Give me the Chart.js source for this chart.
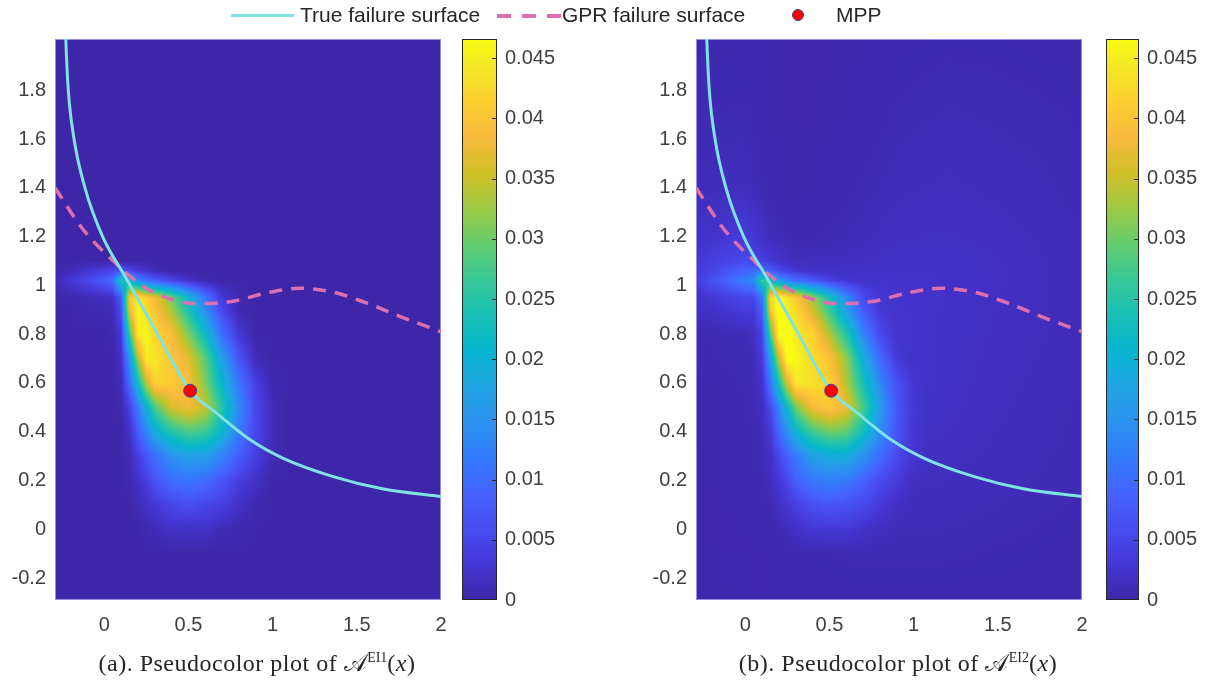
<!DOCTYPE html>
<html>
<head>
<meta charset="utf-8">
<title>Pseudocolor plots of A-EI1 and A-EI2</title>
<script src="https://cdn.jsdelivr.net/npm/chart.js@4.4.1/dist/chart.umd.min.js"></script>
<style>
  html, body { margin: 0; padding: 0; background: #fff; overflow: hidden; }
  #fig { position: relative; width: 1213px; height: 682px; color: #262626;
         font-family: 'Liberation Sans', Arial, sans-serif; }
  #fig canvas { position: absolute; top: 0; }
  .leg { position: absolute; top: 3px; font-size: 21px; line-height: 24px; white-space: nowrap; }
  .swatch { position: absolute; }
  .cap { position: absolute; top: 650px; width: 514px; text-align: center; white-space: nowrap;
         font-family: 'Liberation Serif', 'DejaVu Serif', serif; font-size: 24px; line-height: 26px;
         letter-spacing: 0.5px; }
  .cap sup { font-size: 14px; vertical-align: 9px; line-height: 0; letter-spacing: 0; }
</style>
</head>
<body>
<div id="fig">
  <canvas id="chartA" width="572" height="682" style="left:0"></canvas>
  <canvas id="chartB" width="572" height="682" style="left:641px"></canvas>

  <div class="swatch" style="left:231px;top:14px;width:63px;height:3px;background:#7fe3e3"></div>
  <div class="leg" style="left:300px">True failure surface</div>
  <div class="swatch" style="left:497px;top:14px;width:64px;height:3.5px;background:repeating-linear-gradient(90deg,#de6fae 0 14px,transparent 14px 25px)"></div>
  <div class="leg" style="left:562px">GPR failure surface</div>
  <div class="swatch" style="left:792px;top:9px;width:12px;height:12px;box-sizing:border-box;border-radius:50%;background:#f00;border:1px solid #3646a8"></div>
  <div class="leg" style="left:836px">MPP</div>

  <div class="cap" style="left:0">(a). Pseudocolor plot of 𝒜<sup>EI1</sup>(<i>x</i>)</div>
  <div class="cap" style="left:641px">(b). Pseudocolor plot of 𝒜<sup>EI2</sup>(<i>x</i>)</div>
</div>

<script>
// axis ranges and tick labels
const xMin = -0.293, xMax = 2.0;
const yMin = -0.29, yMax = 2.01;
const cbMax = 0.0466;
const xTicks = [0, 0.5, 1, 1.5, 2];
const yTicks = [-0.2, 0, 0.2, 0.4, 0.6, 0.8, 1, 1.2, 1.4, 1.6, 1.8];
const cbTicks = [0, 0.005, 0.01, 0.015, 0.02, 0.025, 0.03, 0.035, 0.04, 0.045];

// curves
const trueCurveX = [-0.233, -0.229, -0.214, -0.18, -0.115, -0.01, 0.12, 0.3, 0.51, 0.667, 0.866, 1.063, 1.36, 1.658, 2.0];
const trueCurveY = [2.1, 2.01, 1.8, 1.6, 1.4, 1.2, 1.04, 0.82, 0.568, 0.476, 0.367, 0.291, 0.216, 0.165, 0.134];
const gprCurveX = [-0.293, -0.126, 0.044, 0.23, 0.41, 0.568, 0.764, 0.964, 1.161, 1.359, 1.557, 1.755, 2.0];
const gprCurveY = [1.4, 1.229, 1.106, 0.996, 0.94, 0.925, 0.935, 0.969, 0.988, 0.972, 0.928, 0.873, 0.81];
const mppX = [0.51];
const mppY = [0.568];

// acquisition function values (x 1e-3) on a grid, same plume in both panels
const fieldX = [-0.3, -0.2, -0.1, 0, 0.05, 0.1, 0.15, 0.2, 0.25, 0.3, 0.4, 0.5, 0.6, 0.7, 0.8, 0.9, 1.0, 1.1];
const fieldY = [1.1, 1.06, 1.02, 0.95, 0.9, 0.8, 0.7, 0.6, 0.5, 0.4, 0.3, 0.2, 0.1, 0.0, -0.1];
const plumeValues = [
  [0,   0,   0,   0,   0,   0,  0,  0,  0,  0,  0,  0,  0,  0,  0,   0,   0,   0],
  [0,   1,   2.5, 4,   5,   7,  5,  3,  2,  1,  0,  0,  0,  0,  0,   0,   0,   0],
  [0.5, 3,   5,   8,   10,  24, 20, 14, 10, 8,  5,  2,  0.5, 0, 0,   0,   0,   0],
  [0,   0.5, 1,   1.5, 2,   8,  40, 45, 41, 38, 30, 21, 11, 3,  0.5, 0,   0,   0],
  [0,   0,   0.5, 1,   1,   6,  38, 46, 43, 40, 33, 24, 14, 5,  0.5, 0,   0,   0],
  [0,   0,   0,   0,   0.5, 3,  26, 45, 46, 42, 39, 31, 22, 10, 3,   0,   0,   0],
  [0,   0,   0,   0,   0,   2,  15, 33, 45, 44, 40, 37, 29, 17, 7,   1,   0,   0],
  [0,   0,   0,   0,   0,   1,  10, 22, 34, 42, 41, 39, 31, 21, 11,  4,   0.5, 0],
  [0,   0,   0,   0,   0,   0.5, 4, 12, 20, 28, 36, 38, 35, 25, 14,  5,   1,   0],
  [0,   0,   0,   0,   0,   0,  2,  8,  13, 19, 25, 28, 27, 21, 12,  5,   1,   0],
  [0,   0,   0,   0,   0,   0,  1,  4,  7,  10, 15, 17, 17, 13, 8,   4,   1,   0],
  [0,   0,   0,   0,   0,   0,  0.5, 2, 4,  7,  10, 11, 10, 7,  4,   2,   0,   0],
  [0,   0,   0,   0,   0,   0,  0,  1,  2,  3,  5,  6,  5,  4,  2,   0.5, 0,   0],
  [0,   0,   0,   0,   0,   0,  0,  0,  0.5, 1, 2,  2,  2,  1,  0.5, 0,   0,   0],
  [0,   0,   0,   0,   0,   0,  0,  0,  0,  0,  0,  0,  0,  0,  0,   0,   0,   0]
];

// faint background of panel (b) (x 1e-3)
const haloX = [-0.3, 0, 0.15, 0.3, 0.6, 0.9, 1.2, 1.5, 1.8, 2.0];
const haloY = [2.05, 1.7, 1.4, 1.2, 1.1, 1.0, 0.8, 0.5, 0.2, -0.1, -0.3];
const haloValues = [
  [0.5, 0.5, 0.2, 0.1, 0.2, 0.5, 0.6, 0.6, 0.5, 0.5],
  [0.7, 0.8, 0.3, 0.1, 0.3, 0.8, 1.0, 0.9, 0.8, 0.7],
  [1.0, 1.4, 0.5, 0.2, 0.6, 1.2, 1.4, 1.2, 1.0, 0.8],
  [1.8, 3.5, 1.3, 0.5, 1.0, 1.6, 1.7, 1.5, 1.2, 1.0],
  [3.0, 5.5, 3.0, 1.3, 1.5, 1.9, 1.9, 1.7, 1.3, 1.0],
  [2.5, 4.5, 2.5, 2.5, 2.5, 2.2, 2.0, 1.7, 1.3, 1.0],
  [0.7, 1.0, 1.8, 2.5, 3.0, 2.4, 1.9, 1.6, 1.3, 1.0],
  [0.4, 0.7, 1.3, 2.2, 2.8, 2.2, 1.8, 1.4, 1.1, 0.9],
  [0.3, 0.5, 0.9, 1.3, 1.7, 1.5, 1.3, 1.1, 0.9, 0.8],
  [0.3, 0.3, 0.4, 0.6, 0.8, 0.8, 0.8, 0.7, 0.6, 0.5],
  [0.2, 0.3, 0.3, 0.4, 0.5, 0.5, 0.5, 0.5, 0.4, 0.4]
];

// parula, every 4th entry
const parulaStops = [
  [0.2422, 0.1504, 0.6603], [0.2706, 0.2147, 0.8364], [0.2813, 0.3006, 0.9414],
  [0.2699, 0.3892, 0.9906], [0.1963, 0.4847, 0.9892], [0.1687, 0.5703, 0.9359],
  [0.1248, 0.6459, 0.8883], [0.0297, 0.7082, 0.8163], [0.0964, 0.7500, 0.7120],
  [0.2161, 0.7843, 0.5923], [0.3909, 0.8029, 0.4354], [0.6174, 0.7876, 0.2612],
  [0.8203, 0.7498, 0.1535], [0.9728, 0.7298, 0.2394], [0.9892, 0.8136, 0.1885],
  [0.9597, 0.9135, 0.1423], [0.9769, 0.9839, 0.0805]
];
const stopPos = parulaStops.map((_, i) => Math.min(i * 4, 63) / 63);

function parula(t) {
  t = Math.max(0, Math.min(1, t));
  let i = 0;
  while (i < stopPos.length - 2 && t > stopPos[i + 1]) i++;
  const f = (t - stopPos[i]) / (stopPos[i + 1] - stopPos[i]);
  const a = parulaStops[i], b = parulaStops[i + 1];
  return [0, 1, 2].map(k => Math.round(255 * (a[k] + (b[k] - a[k]) * f)));
}

// bilinear lookup, xs ascending, ys descending
function sampleGrid(xs, ys, grid, x, y, clamp) {
  if (clamp) {
    x = Math.max(xs[0], Math.min(xs[xs.length - 1], x));
    y = Math.min(ys[0], Math.max(ys[ys.length - 1], y));
  } else if (x < xs[0] || x > xs[xs.length - 1] || y > ys[0] || y < ys[ys.length - 1]) {
    return 0;
  }
  let i = 0, j = 0;
  while (i < xs.length - 2 && x > xs[i + 1]) i++;
  while (j < ys.length - 2 && y < ys[j + 1]) j++;
  const tx = (x - xs[i]) / (xs[i + 1] - xs[i]);
  const ty = (ys[j] - y) / (ys[j] - ys[j + 1]);
  const top = grid[j][i] * (1 - tx) + grid[j][i + 1] * tx;
  const bot = grid[j + 1][i] * (1 - tx) + grid[j + 1][i + 1] * tx;
  return top * (1 - ty) + bot * ty;
}

const fieldA = (x, y) => sampleGrid(fieldX, fieldY, plumeValues, x, y) * 1e-3;
const fieldB = (x, y) => fieldA(x, y) + sampleGrid(haloX, haloY, haloValues, x, y, true) * 1e-3;

const toPoints = (xs, ys) => xs.map((x, i) => ({ x, y: ys[i] }));

// draws the pseudocolor field in the plot area and the colorbar next to it
function fieldPlugin(valueAt, cb) {
  return {
    id: 'field',
    beforeDatasetsDraw(chart) {
      const { ctx, chartArea: a } = chart;
      const xs = chart.scales.x, ys = chart.scales.y;
      const x0 = Math.round(a.left), y0 = Math.round(a.top);
      const w = Math.round(a.right) - x0, h = Math.round(a.bottom) - y0;
      const img = ctx.createImageData(w, h);
      for (let j = 0; j < h; j++) {
        const yv = ys.getValueForPixel(y0 + j + 0.5);
        for (let i = 0; i < w; i++) {
          const c = parula(valueAt(xs.getValueForPixel(x0 + i + 0.5), yv) / cbMax);
          const k = (j * w + i) * 4;
          img.data[k] = c[0]; img.data[k + 1] = c[1]; img.data[k + 2] = c[2]; img.data[k + 3] = 255;
        }
      }
      ctx.putImageData(img, x0, y0);
      ctx.save();
      ctx.strokeStyle = 'rgba(160,150,235,0.9)';
      ctx.lineWidth = 1;
      ctx.strokeRect(x0 + 0.5, y0 + 0.5, w - 1, h - 1);
      ctx.restore();
    },
    afterDraw(chart) {
      const { ctx } = chart;
      const s = chart.scales.cb;
      const left = Math.round(chart.chartArea.right + cb.gap);
      const top = Math.round(s.top), bottom = Math.round(s.bottom);
      ctx.save();
      for (let py = top; py < bottom; py++) {
        const c = parula(s.getValueForPixel(py + 0.5) / cbMax);
        ctx.fillStyle = `rgb(${c[0]},${c[1]},${c[2]})`;
        ctx.fillRect(left, py, cb.width, 1);
      }
      ctx.strokeStyle = '#262626';
      ctx.lineWidth = 1;
      ctx.strokeRect(left + 0.5, top + 0.5, cb.width - 1, bottom - top - 1);
      cbTicks.forEach(v => {
        if (v === 0) return;
        const py = Math.round(s.getPixelForValue(v)) + 0.5;
        ctx.beginPath();
        ctx.moveTo(left + cb.width - 5, py);
        ctx.lineTo(left + cb.width - 1, py);
        ctx.stroke();
      });
      ctx.restore();
    }
  };
}

Chart.defaults.font.family = "'Liberation Sans', Arial, sans-serif";
Chart.defaults.font.size = 20;
Chart.defaults.color = '#404040';

function makeChart(id, valueAt, cb) {
  const fixTicks = list => s => { s.ticks = list.map(value => ({ value })); };
  return new Chart(document.getElementById(id), {
    type: 'scatter',
    data: {
      datasets: [
        {
          label: 'True failure surface',
          data: toPoints(trueCurveX, trueCurveY),
          showLine: true, borderColor: '#7fe3e3', borderWidth: 3,
          pointRadius: 0, cubicInterpolationMode: 'monotone', clip: 0, order: 1
        },
        {
          label: 'GPR failure surface',
          data: toPoints(gprCurveX, gprCurveY),
          showLine: true, borderColor: '#de6fae', borderWidth: 3.5, borderDash: [13, 9],
          pointRadius: 0, cubicInterpolationMode: 'monotone', clip: 0, order: 2
        },
        {
          label: 'MPP',
          data: toPoints(mppX, mppY),
          pointRadius: 6.5, pointBackgroundColor: '#ff0000',
          pointBorderColor: '#3646a8', pointBorderWidth: 1, order: 0
        }
      ]
    },
    options: {
      responsive: false,
      animation: false,
      devicePixelRatio: 1,
      events: [],
      layout: { padding: { left: 10, top: 39, right: 6, bottom: 42 } },
      plugins: { legend: { display: false }, tooltip: { enabled: false } },
      scales: {
        x: {
          type: 'linear', min: xMin, max: xMax,
          grid: { display: false, drawTicks: false }, border: { display: false },
          ticks: { padding: 13, callback: v => String(v) },
          afterBuildTicks: fixTicks(xTicks),
          afterFit: s => { s.height = 40; }
        },
        y: {
          type: 'linear', min: yMin, max: yMax,
          grid: { display: false, drawTicks: false }, border: { display: false },
          ticks: { padding: 9, callback: v => String(v) },
          afterBuildTicks: fixTicks(yTicks),
          afterFit: s => { s.width = 45; }
        },
        cb: {
          type: 'linear', position: 'right', min: 0, max: cbMax,
          grid: { display: false, drawTicks: true, tickLength: cb.labelPad - 8 },
          border: { display: false },
          ticks: { padding: 8, callback: v => String(v) },
          afterBuildTicks: fixTicks(cbTicks),
          afterFit: s => { s.width = 125; }
        }
      }
    },
    plugins: [fieldPlugin(valueAt, cb)]
  });
}

makeChart('chartA', fieldA, { gap: 21, width: 35, labelPad: 64 });
makeChart('chartB', fieldB, { gap: 24, width: 33, labelPad: 65 });
</script>
</body>
</html>
